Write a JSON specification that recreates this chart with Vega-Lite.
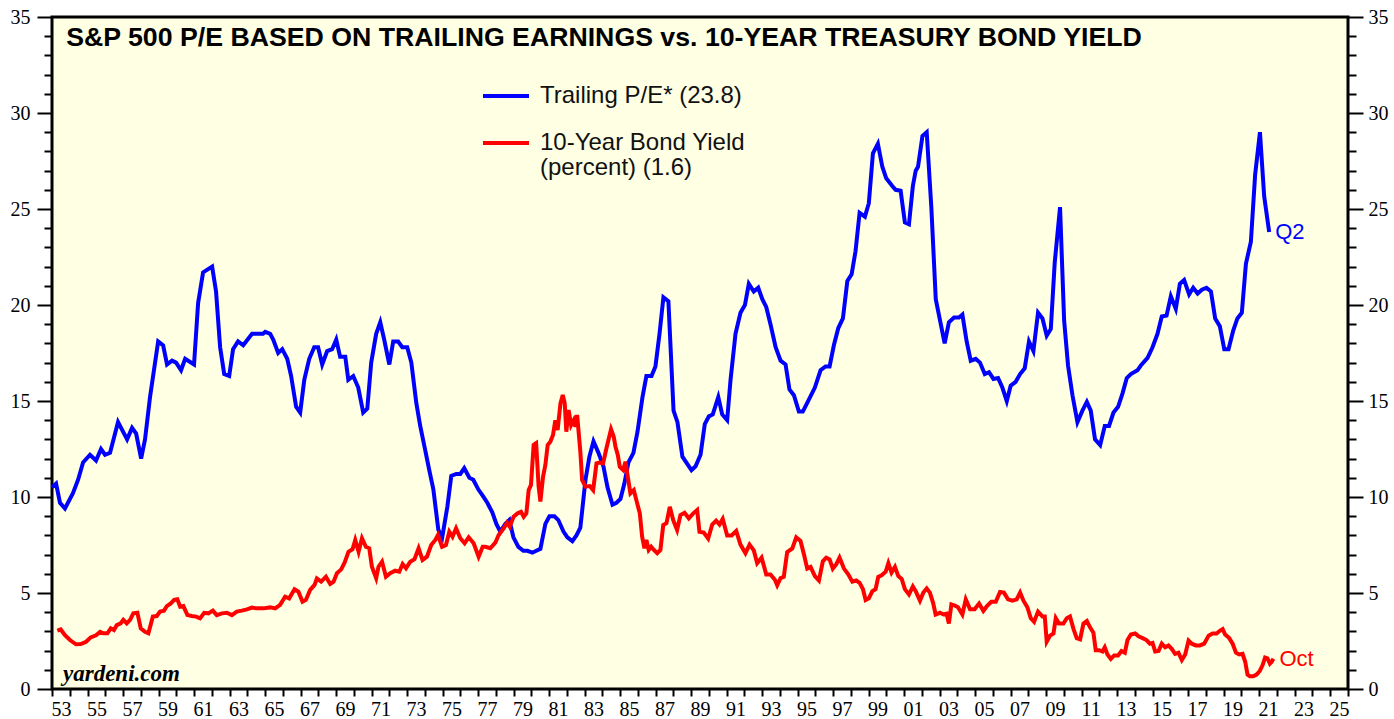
{
  "$schema": "https://vega.github.io/schema/vega-lite/v6.json",
  "width": 1296,
  "height": 672,
  "autosize": {"type": "none"},
  "padding": {"left": 52, "top": 17, "right": 46, "bottom": 30},
  "background": "white",
  "title": {"text": "Figure 7", "anchor": "start", "frame": "group", "font": "Liberation Sans", "fontSize": 22, "fontWeight": "bold", "color": "black", "baseline": "alphabetic", "offset": 4, "dx": 11},
  "config": {
    "view": {"fill": "#FFFFE3", "stroke": "black", "strokeWidth": 3},
    "axis": {"grid": false, "domain": false, "labelFont": "Liberation Serif", "labelFontSize": 20, "labelColor": "black", "tickColor": "black", "tickWidth": 2, "title": null}
  },
  "datasets": {
    "pe": [
      {"t":1953.0,"v":10.5},{"t":1953.23,"v":10.7},{"t":1953.45,"v":9.7},{"t":1953.73,"v":9.4},{"t":1954.18,"v":10.2},{"t":1954.47,"v":10.9},{"t":1954.75,"v":11.8},{"t":1955.14,"v":12.2},{"t":1955.48,"v":11.9},{"t":1955.76,"v":12.5},{"t":1955.99,"v":12.2},{"t":1956.27,"v":12.3},{"t":1956.72,"v":13.9},{"t":1957.23,"v":13.0},{"t":1957.51,"v":13.6},{"t":1957.74,"v":13.3},{"t":1958.02,"v":12.0},{"t":1958.24,"v":13.0},{"t":1958.52,"v":15.2},{"t":1958.98,"v":18.1},{"t":1959.26,"v":17.9},{"t":1959.48,"v":16.9},{"t":1959.76,"v":17.1},{"t":1959.99,"v":17.0},{"t":1960.27,"v":16.6},{"t":1960.5,"v":17.2},{"t":1961.0,"v":16.9},{"t":1961.23,"v":20.1},{"t":1961.51,"v":21.7},{"t":1962.02,"v":22.0},{"t":1962.24,"v":20.7},{"t":1962.47,"v":17.8},{"t":1962.7,"v":16.4},{"t":1962.98,"v":16.3},{"t":1963.2,"v":17.7},{"t":1963.48,"v":18.1},{"t":1963.77,"v":17.9},{"t":1964.27,"v":18.5},{"t":1964.89,"v":18.5},{"t":1965.01,"v":18.6},{"t":1965.29,"v":18.5},{"t":1965.46,"v":18.2},{"t":1965.74,"v":17.5},{"t":1965.97,"v":17.7},{"t":1966.25,"v":17.2},{"t":1966.47,"v":16.3},{"t":1966.75,"v":14.7},{"t":1966.98,"v":14.4},{"t":1967.21,"v":16.1},{"t":1967.49,"v":17.2},{"t":1967.77,"v":17.8},{"t":1967.99,"v":17.8},{"t":1968.22,"v":16.9},{"t":1968.5,"v":17.6},{"t":1968.78,"v":17.7},{"t":1969.01,"v":18.2},{"t":1969.23,"v":17.3},{"t":1969.52,"v":17.3},{"t":1969.69,"v":16.1},{"t":1969.97,"v":16.3},{"t":1970.25,"v":15.7},{"t":1970.53,"v":14.4},{"t":1970.76,"v":14.6},{"t":1970.98,"v":17.0},{"t":1971.26,"v":18.5},{"t":1971.49,"v":19.1},{"t":1971.71,"v":18.2},{"t":1972.0,"v":16.9},{"t":1972.22,"v":18.1},{"t":1972.5,"v":18.1},{"t":1972.73,"v":17.8},{"t":1973.01,"v":17.8},{"t":1973.24,"v":17.0},{"t":1973.52,"v":14.9},{"t":1973.74,"v":13.7},{"t":1974.03,"v":12.4},{"t":1974.25,"v":11.4},{"t":1974.48,"v":10.4},{"t":1974.76,"v":8.3},{"t":1974.98,"v":7.9},{"t":1975.27,"v":9.5},{"t":1975.49,"v":11.1},{"t":1975.77,"v":11.2},{"t":1976.0,"v":11.2},{"t":1976.22,"v":11.5},{"t":1976.51,"v":11.0},{"t":1976.73,"v":10.9},{"t":1977.01,"v":10.4},{"t":1977.24,"v":10.1},{"t":1977.52,"v":9.7},{"t":1977.8,"v":9.2},{"t":1978.03,"v":8.6},{"t":1978.25,"v":8.2},{"t":1978.54,"v":8.6},{"t":1978.76,"v":8.8},{"t":1978.99,"v":7.9},{"t":1979.27,"v":7.4},{"t":1979.55,"v":7.2},{"t":1979.78,"v":7.2},{"t":1980.06,"v":7.1},{"t":1980.28,"v":7.2},{"t":1980.51,"v":7.3},{"t":1980.79,"v":8.6},{"t":1981.02,"v":9.0},{"t":1981.3,"v":9.0},{"t":1981.52,"v":8.8},{"t":1981.81,"v":8.2},{"t":1982.03,"v":7.9},{"t":1982.31,"v":7.7},{"t":1982.54,"v":8.0},{"t":1982.76,"v":8.4},{"t":1983.05,"v":10.9},{"t":1983.27,"v":12.1},{"t":1983.5,"v":12.9},{"t":1983.78,"v":12.3},{"t":1984.06,"v":11.6},{"t":1984.29,"v":10.5},{"t":1984.57,"v":9.6},{"t":1984.79,"v":9.7},{"t":1985.02,"v":9.9},{"t":1985.24,"v":10.7},{"t":1985.47,"v":11.8},{"t":1985.75,"v":12.3},{"t":1985.98,"v":13.4},{"t":1986.26,"v":15.2},{"t":1986.48,"v":16.3},{"t":1986.77,"v":16.3},{"t":1986.99,"v":16.8},{"t":1987.22,"v":18.5},{"t":1987.44,"v":20.4},{"t":1987.72,"v":20.2},{"t":1988.01,"v":14.5},{"t":1988.23,"v":13.9},{"t":1988.51,"v":12.1},{"t":1988.8,"v":11.7},{"t":1989.02,"v":11.4},{"t":1989.25,"v":11.6},{"t":1989.53,"v":12.2},{"t":1989.77,"v":13.8},{"t":1990.0,"v":14.2},{"t":1990.22,"v":14.3},{"t":1990.53,"v":15.2},{"t":1990.75,"v":14.3},{"t":1991.03,"v":14.0},{"t":1991.22,"v":16.1},{"t":1991.5,"v":18.5},{"t":1991.78,"v":19.6},{"t":1992.03,"v":20.0},{"t":1992.25,"v":21.1},{"t":1992.53,"v":20.7},{"t":1992.78,"v":20.9},{"t":1993.01,"v":20.3},{"t":1993.23,"v":19.9},{"t":1993.47,"v":19.0},{"t":1993.76,"v":17.8},{"t":1994.04,"v":17.1},{"t":1994.32,"v":16.9},{"t":1994.54,"v":15.6},{"t":1994.79,"v":15.3},{"t":1995.07,"v":14.45},{"t":1995.29,"v":14.45},{"t":1995.54,"v":14.9},{"t":1995.97,"v":15.7},{"t":1996.29,"v":16.6},{"t":1996.57,"v":16.8},{"t":1996.8,"v":16.8},{"t":1997.04,"v":17.9},{"t":1997.29,"v":18.8},{"t":1997.55,"v":19.3},{"t":1997.8,"v":21.25},{"t":1998.04,"v":21.6},{"t":1998.26,"v":22.8},{"t":1998.49,"v":24.8},{"t":1998.79,"v":24.6},{"t":1999.01,"v":25.3},{"t":1999.24,"v":27.9},{"t":1999.52,"v":28.4},{"t":1999.77,"v":27.2},{"t":1999.99,"v":26.6},{"t":2000.33,"v":26.2},{"t":2000.52,"v":26.0},{"t":2000.8,"v":25.95},{"t":2001.04,"v":24.3},{"t":2001.27,"v":24.2},{"t":2001.49,"v":26.2},{"t":2001.65,"v":27.0},{"t":2001.78,"v":27.2},{"t":2002.03,"v":28.8},{"t":2002.27,"v":29.0},{"t":2002.53,"v":25.1},{"t":2002.78,"v":20.3},{"t":2003.02,"v":19.2},{"t":2003.28,"v":18.0},{"t":2003.52,"v":19.1},{"t":2003.81,"v":19.35},{"t":2004.09,"v":19.35},{"t":2004.28,"v":19.5},{"t":2004.52,"v":18.1},{"t":2004.75,"v":17.1},{"t":2005.03,"v":17.2},{"t":2005.27,"v":17.0},{"t":2005.54,"v":16.4},{"t":2005.78,"v":16.5},{"t":2006.03,"v":16.15},{"t":2006.29,"v":16.2},{"t":2006.53,"v":15.7},{"t":2006.78,"v":15.0},{"t":2007.0,"v":15.8},{"t":2007.28,"v":16.0},{"t":2007.53,"v":16.4},{"t":2007.79,"v":16.7},{"t":2008.03,"v":18.1},{"t":2008.28,"v":17.6},{"t":2008.54,"v":19.6},{"t":2008.79,"v":19.3},{"t":2009.03,"v":18.4},{"t":2009.26,"v":18.75},{"t":2009.48,"v":22.2},{"t":2009.78,"v":25.1},{"t":2010.01,"v":19.2},{"t":2010.23,"v":16.85},{"t":2010.48,"v":15.3},{"t":2010.76,"v":13.9},{"t":2011.04,"v":14.5},{"t":2011.29,"v":14.95},{"t":2011.51,"v":14.5},{"t":2011.75,"v":13.0},{"t":2012.04,"v":12.7},{"t":2012.3,"v":13.7},{"t":2012.54,"v":13.7},{"t":2012.79,"v":14.4},{"t":2013.05,"v":14.7},{"t":2013.3,"v":15.4},{"t":2013.54,"v":16.2},{"t":2013.77,"v":16.4},{"t":2014.14,"v":16.6},{"t":2014.33,"v":16.85},{"t":2014.71,"v":17.25},{"t":2014.99,"v":17.8},{"t":2015.27,"v":18.5},{"t":2015.51,"v":19.4},{"t":2015.78,"v":19.45},{"t":2016.02,"v":20.45},{"t":2016.3,"v":19.8},{"t":2016.53,"v":21.1},{"t":2016.77,"v":21.3},{"t":2017.05,"v":20.55},{"t":2017.28,"v":20.9},{"t":2017.53,"v":20.6},{"t":2017.77,"v":20.8},{"t":2018.03,"v":20.9},{"t":2018.28,"v":20.7},{"t":2018.52,"v":19.3},{"t":2018.78,"v":18.9},{"t":2019.03,"v":17.7},{"t":2019.27,"v":17.7},{"t":2019.53,"v":18.65},{"t":2019.77,"v":19.3},{"t":2020.02,"v":19.6},{"t":2020.25,"v":22.15},{"t":2020.53,"v":23.3},{"t":2020.77,"v":26.8},{"t":2021.04,"v":29.0},{"t":2021.28,"v":25.65},{"t":2021.56,"v":23.8}
    ],
    "yld": [
      {"t":1953.3,"v":3.04},{"t":1953.49,"v":3.1},{"t":1953.73,"v":2.8},{"t":1954.01,"v":2.55},{"t":1954.35,"v":2.33},{"t":1954.62,"v":2.34},{"t":1954.92,"v":2.46},{"t":1955.18,"v":2.69},{"t":1955.48,"v":2.8},{"t":1955.71,"v":2.98},{"t":1955.89,"v":2.9},{"t":1956.12,"v":2.9},{"t":1956.31,"v":3.16},{"t":1956.49,"v":3.07},{"t":1956.65,"v":3.33},{"t":1956.87,"v":3.42},{"t":1957.02,"v":3.6},{"t":1957.21,"v":3.42},{"t":1957.4,"v":3.6},{"t":1957.58,"v":3.94},{"t":1957.81,"v":3.97},{"t":1958.0,"v":3.16},{"t":1958.24,"v":2.98},{"t":1958.43,"v":2.9},{"t":1958.68,"v":3.77},{"t":1958.9,"v":3.8},{"t":1959.09,"v":4.03},{"t":1959.31,"v":4.08},{"t":1959.47,"v":4.32},{"t":1959.69,"v":4.46},{"t":1959.88,"v":4.64},{"t":1960.06,"v":4.67},{"t":1960.22,"v":4.29},{"t":1960.4,"v":4.32},{"t":1960.63,"v":3.85},{"t":1960.87,"v":3.8},{"t":1961.12,"v":3.77},{"t":1961.34,"v":3.68},{"t":1961.57,"v":3.97},{"t":1961.81,"v":3.94},{"t":1962.06,"v":4.08},{"t":1962.28,"v":3.85},{"t":1962.57,"v":3.94},{"t":1962.85,"v":3.97},{"t":1963.13,"v":3.85},{"t":1963.41,"v":4.03},{"t":1963.69,"v":4.08},{"t":1963.98,"v":4.15},{"t":1964.26,"v":4.24},{"t":1964.54,"v":4.2},{"t":1964.91,"v":4.2},{"t":1965.29,"v":4.25},{"t":1965.57,"v":4.2},{"t":1965.85,"v":4.38},{"t":1966.13,"v":4.81},{"t":1966.36,"v":4.72},{"t":1966.66,"v":5.19},{"t":1966.88,"v":5.07},{"t":1967.11,"v":4.55},{"t":1967.3,"v":4.64},{"t":1967.54,"v":5.16},{"t":1967.79,"v":5.42},{"t":1967.92,"v":5.76},{"t":1968.16,"v":5.59},{"t":1968.43,"v":5.85},{"t":1968.67,"v":5.47},{"t":1968.86,"v":5.59},{"t":1969.05,"v":6.03},{"t":1969.29,"v":6.23},{"t":1969.48,"v":6.58},{"t":1969.7,"v":7.15},{"t":1969.93,"v":7.28},{"t":1970.08,"v":7.76},{"t":1970.27,"v":7.15},{"t":1970.46,"v":7.85},{"t":1970.68,"v":7.41},{"t":1970.87,"v":7.33},{"t":1971.02,"v":6.37},{"t":1971.26,"v":5.77},{"t":1971.39,"v":6.37},{"t":1971.59,"v":6.63},{"t":1971.81,"v":5.85},{"t":1972.05,"v":6.03},{"t":1972.33,"v":6.16},{"t":1972.56,"v":6.11},{"t":1972.75,"v":6.51},{"t":1972.94,"v":6.29},{"t":1973.18,"v":6.63},{"t":1973.42,"v":6.76},{"t":1973.65,"v":7.33},{"t":1973.87,"v":6.72},{"t":1974.12,"v":6.89},{"t":1974.36,"v":7.5},{"t":1974.59,"v":7.76},{"t":1974.74,"v":8.02},{"t":1974.97,"v":7.41},{"t":1975.19,"v":7.5},{"t":1975.38,"v":8.19},{"t":1975.56,"v":7.93},{"t":1975.76,"v":8.37},{"t":1976.0,"v":7.85},{"t":1976.24,"v":7.59},{"t":1976.47,"v":7.9},{"t":1976.75,"v":7.59},{"t":1977.03,"v":6.89},{"t":1977.26,"v":7.41},{"t":1977.41,"v":7.41},{"t":1977.69,"v":7.33},{"t":1977.97,"v":7.62},{"t":1978.16,"v":8.02},{"t":1978.44,"v":8.37},{"t":1978.63,"v":8.66},{"t":1978.78,"v":8.45},{"t":1979.0,"v":8.97},{"t":1979.23,"v":9.15},{"t":1979.42,"v":9.23},{"t":1979.57,"v":8.97},{"t":1979.72,"v":9.15},{"t":1979.85,"v":10.36},{"t":1979.98,"v":10.63},{"t":1980.13,"v":12.71},{"t":1980.27,"v":12.8},{"t":1980.41,"v":10.54},{"t":1980.51,"v":9.76},{"t":1980.66,"v":11.06},{"t":1980.79,"v":11.67},{"t":1980.92,"v":12.71},{"t":1981.07,"v":12.88},{"t":1981.22,"v":13.23},{"t":1981.35,"v":14.0},{"t":1981.48,"v":13.49},{"t":1981.64,"v":14.88},{"t":1981.77,"v":15.31},{"t":1981.88,"v":14.88},{"t":1981.97,"v":13.4},{"t":1982.1,"v":14.53},{"t":1982.24,"v":13.75},{"t":1982.39,"v":14.01},{"t":1982.48,"v":13.66},{"t":1982.58,"v":14.27},{"t":1982.76,"v":12.36},{"t":1982.86,"v":10.89},{"t":1983.05,"v":10.54},{"t":1983.29,"v":10.57},{"t":1983.48,"v":10.36},{"t":1983.67,"v":11.75},{"t":1983.85,"v":11.79},{"t":1984.04,"v":11.75},{"t":1984.23,"v":12.54},{"t":1984.49,"v":13.53},{"t":1984.64,"v":13.14},{"t":1984.74,"v":12.62},{"t":1984.87,"v":12.19},{"t":1984.98,"v":11.58},{"t":1985.17,"v":11.41},{"t":1985.3,"v":11.84},{"t":1985.43,"v":11.06},{"t":1985.58,"v":10.19},{"t":1985.77,"v":10.36},{"t":1985.96,"v":9.67},{"t":1986.11,"v":9.15},{"t":1986.24,"v":7.93},{"t":1986.37,"v":7.33},{"t":1986.48,"v":7.76},{"t":1986.61,"v":7.24},{"t":1986.75,"v":7.41},{"t":1986.9,"v":7.24},{"t":1987.09,"v":7.07},{"t":1987.27,"v":7.24},{"t":1987.43,"v":8.54},{"t":1987.61,"v":8.63},{"t":1987.8,"v":9.49},{"t":1987.99,"v":8.8},{"t":1988.21,"v":8.28},{"t":1988.4,"v":9.06},{"t":1988.63,"v":9.18},{"t":1988.87,"v":8.89},{"t":1989.12,"v":9.15},{"t":1989.34,"v":9.32},{"t":1989.47,"v":8.19},{"t":1989.71,"v":8.15},{"t":1989.96,"v":7.84},{"t":1990.19,"v":8.57},{"t":1990.41,"v":8.77},{"t":1990.6,"v":8.57},{"t":1990.78,"v":8.86},{"t":1991.03,"v":8.0},{"t":1991.28,"v":8.0},{"t":1991.54,"v":8.23},{"t":1991.78,"v":7.52},{"t":1992.06,"v":7.07},{"t":1992.29,"v":7.52},{"t":1992.53,"v":7.22},{"t":1992.72,"v":6.55},{"t":1992.97,"v":6.84},{"t":1993.23,"v":5.97},{"t":1993.47,"v":5.97},{"t":1993.72,"v":5.69},{"t":1993.85,"v":5.4},{"t":1994.04,"v":5.78},{"t":1994.22,"v":5.84},{"t":1994.41,"v":7.13},{"t":1994.7,"v":7.32},{"t":1994.92,"v":7.9},{"t":1995.16,"v":7.71},{"t":1995.35,"v":7.03},{"t":1995.54,"v":6.27},{"t":1995.73,"v":6.36},{"t":1995.97,"v":5.88},{"t":1996.2,"v":5.65},{"t":1996.42,"v":6.65},{"t":1996.61,"v":6.84},{"t":1996.8,"v":6.75},{"t":1996.98,"v":6.27},{"t":1997.18,"v":6.5},{"t":1997.36,"v":6.84},{"t":1997.61,"v":6.27},{"t":1997.85,"v":5.97},{"t":1998.08,"v":5.59},{"t":1998.3,"v":5.65},{"t":1998.49,"v":5.53},{"t":1998.68,"v":5.2},{"t":1998.83,"v":4.63},{"t":1999.01,"v":4.72},{"t":1999.21,"v":5.1},{"t":1999.39,"v":5.2},{"t":1999.54,"v":5.84},{"t":1999.73,"v":5.92},{"t":1999.96,"v":6.11},{"t":2000.11,"v":6.55},{"t":2000.29,"v":6.07},{"t":2000.48,"v":6.36},{"t":2000.67,"v":5.88},{"t":2000.86,"v":5.73},{"t":2001.04,"v":5.2},{"t":2001.27,"v":4.92},{"t":2001.49,"v":5.34},{"t":2001.65,"v":5.1},{"t":2001.89,"v":4.6},{"t":2002.08,"v":5.02},{"t":2002.27,"v":5.24},{"t":2002.45,"v":5.02},{"t":2002.64,"v":4.45},{"t":2002.77,"v":3.88},{"t":2003.02,"v":3.97},{"t":2003.21,"v":3.88},{"t":2003.39,"v":3.92},{"t":2003.52,"v":3.41},{"t":2003.66,"v":4.41},{"t":2003.85,"v":4.35},{"t":2004.03,"v":4.26},{"t":2004.28,"v":3.88},{"t":2004.47,"v":4.67},{"t":2004.71,"v":4.16},{"t":2004.97,"v":4.16},{"t":2005.22,"v":4.45},{"t":2005.46,"v":4.07},{"t":2005.65,"v":4.3},{"t":2005.91,"v":4.54},{"t":2006.16,"v":4.54},{"t":2006.4,"v":5.05},{"t":2006.62,"v":5.02},{"t":2006.85,"v":4.67},{"t":2007.1,"v":4.6},{"t":2007.34,"v":4.67},{"t":2007.53,"v":5.02},{"t":2007.72,"v":4.6},{"t":2007.94,"v":4.26},{"t":2008.13,"v":3.69},{"t":2008.32,"v":3.5},{"t":2008.54,"v":4.03},{"t":2008.79,"v":3.78},{"t":2008.92,"v":3.78},{"t":2009.03,"v":2.46},{"t":2009.22,"v":2.78},{"t":2009.41,"v":2.89},{"t":2009.54,"v":3.69},{"t":2009.72,"v":3.41},{"t":2009.97,"v":3.41},{"t":2010.16,"v":3.69},{"t":2010.34,"v":3.78},{"t":2010.54,"v":3.12},{"t":2010.72,"v":2.65},{"t":2010.91,"v":2.59},{"t":2011.1,"v":3.41},{"t":2011.29,"v":3.54},{"t":2011.47,"v":3.21},{"t":2011.66,"v":2.93},{"t":2011.79,"v":2.02},{"t":2011.98,"v":2.02},{"t":2012.17,"v":1.95},{"t":2012.3,"v":2.17},{"t":2012.45,"v":1.8},{"t":2012.64,"v":1.57},{"t":2012.83,"v":1.75},{"t":2013.05,"v":1.75},{"t":2013.24,"v":1.98},{"t":2013.43,"v":1.89},{"t":2013.58,"v":2.55},{"t":2013.77,"v":2.84},{"t":2014.01,"v":2.89},{"t":2014.2,"v":2.74},{"t":2014.43,"v":2.65},{"t":2014.65,"v":2.55},{"t":2014.84,"v":2.36},{"t":2014.99,"v":2.4},{"t":2015.14,"v":1.95},{"t":2015.33,"v":1.98},{"t":2015.51,"v":2.36},{"t":2015.7,"v":2.17},{"t":2015.89,"v":2.27},{"t":2016.08,"v":2.08},{"t":2016.26,"v":1.83},{"t":2016.45,"v":1.89},{"t":2016.64,"v":1.51},{"t":2016.83,"v":1.8},{"t":2017.02,"v":2.52},{"t":2017.2,"v":2.36},{"t":2017.43,"v":2.27},{"t":2017.66,"v":2.27},{"t":2017.9,"v":2.36},{"t":2018.15,"v":2.78},{"t":2018.37,"v":2.89},{"t":2018.6,"v":2.89},{"t":2018.78,"v":3.03},{"t":2018.94,"v":3.12},{"t":2019.08,"v":2.84},{"t":2019.31,"v":2.65},{"t":2019.5,"v":2.36},{"t":2019.69,"v":1.89},{"t":2019.87,"v":1.8},{"t":2020.06,"v":1.83},{"t":2020.21,"v":1.42},{"t":2020.34,"v":0.75},{"t":2020.47,"v":0.66},{"t":2020.66,"v":0.66},{"t":2020.85,"v":0.75},{"t":2021.03,"v":0.94},{"t":2021.18,"v":1.22},{"t":2021.33,"v":1.64},{"t":2021.46,"v":1.6},{"t":2021.6,"v":1.32},{"t":2021.7,"v":1.42},{"t":2021.8,"v":1.58}
    ],
    "ends": [
      {"t":2021.56,"v":23.8,"lab":"Q2"},
      {"t":2021.8,"v":1.58,"lab":"Oct"}
    ]
  },
  "layer": [
    {
      "data": {"name": "pe"},
      "mark": {"type": "line", "strokeWidth": 4},
      "encoding": {
        "x": {"field": "t", "type": "quantitative", "scale": {"domain": [1953, 2026], "nice": false, "zero": false},
          "axis": {"orient": "bottom", "values": [1953,1954,1955,1956,1957,1958,1959,1960,1961,1962,1963,1964,1965,1966,1967,1968,1969,1970,1971,1972,1973,1974,1975,1976,1977,1978,1979,1980,1981,1982,1983,1984,1985,1986,1987,1988,1989,1990,1991,1992,1993,1994,1995,1996,1997,1998,1999,2000,2001,2002,2003,2004,2005,2006,2007,2008,2009,2010,2011,2012,2013,2014,2015,2016,2017,2018,2019,2020,2021,2022,2023,2024,2025,2026],
            "labels": false, "tickSize": 7}},
        "y": {"field": "v", "type": "quantitative", "scale": {"domain": [0, 35], "nice": false},
          "axis": {"orient": "left", "values": [0,1,2,3,4,5,6,7,8,9,10,11,12,13,14,15,16,17,18,19,20,21,22,23,24,25,26,27,28,29,30,31,32,33,34,35],
            "labelExpr": "datum.value % 5 == 0 ? datum.label : ''",
            "tickSize": {"condition": {"test": "datum.value % 5 == 0", "value": 15}, "value": 8},
            "labelPadding": 7, "labelOverlap": false, "labelFlush": false}},
        "color": {"datum": "Trailing P/E* (23.8)", "type": "nominal",
          "scale": {"domain": ["Trailing P/E* (23.8)", "10-Year Bond Yield (percent) (1.6)"], "range": ["#0000ff", "#ff0000"]},
          "legend": {"orient": "none", "legendX": 429, "legendY": 54, "title": null, "symbolType": "stroke", "symbolSize": 2116, "symbolStrokeWidth": 4,
            "labelFont": "Liberation Sans", "labelFontSize": 24, "labelColor": "#111111", "labelOffset": 9, "labelLimit": 600, "rowPadding": 10,
            "labelExpr": "datum.label == 'Trailing P/E* (23.8)' ? datum.label : ['10-Year Bond Yield', '(percent) (1.6)']",
            "encode": {"labels": {"update": {"lineHeight": {"value": 25}}}}}}
      }
    },
    {
      "data": {"name": "yld"},
      "mark": {"type": "line", "strokeWidth": 4},
      "encoding": {
        "x": {"field": "t", "type": "quantitative",
          "axis": {"orient": "bottom", "values": [1953.5,1955.5,1957.5,1959.5,1961.5,1963.5,1965.5,1967.5,1969.5,1971.5,1973.5,1975.5,1977.5,1979.5,1981.5,1983.5,1985.5,1987.5,1989.5,1991.5,1993.5,1995.5,1997.5,1999.5,2001.5,2003.5,2005.5,2007.5,2009.5,2011.5,2013.5,2015.5,2017.5,2019.5,2021.5,2023.5,2025.5],
            "labelExpr": "slice(toString(floor(datum.value)), 2)",
            "ticks": false, "labelPadding": 10, "labelOverlap": false, "labelFlush": false, "labelBound": false}},
        "y": {"field": "v", "type": "quantitative",
          "axis": {"orient": "right", "values": [0,1,2,3,4,5,6,7,8,9,10,11,12,13,14,15,16,17,18,19,20,21,22,23,24,25,26,27,28,29,30,31,32,33,34,35],
            "labelExpr": "datum.value % 5 == 0 ? datum.label : ''",
            "tickSize": {"condition": {"test": "datum.value % 5 == 0", "value": 15}, "value": 8},
            "labelPadding": 5, "labelOverlap": false, "labelFlush": false}},
        "color": {"datum": "10-Year Bond Yield (percent) (1.6)", "type": "nominal"}
      }
    },
    {
      "data": {"name": "ends"},
      "mark": {"type": "text", "font": "Liberation Sans", "fontSize": 22, "align": "left", "baseline": "middle", "dx": 6},
      "encoding": {
        "x": {"field": "t", "type": "quantitative", "axis": null},
        "y": {"field": "v", "type": "quantitative", "axis": null},
        "text": {"field": "lab"},
        "color": {"condition": {"test": "datum.lab == 'Q2'", "value": "#0000ff"}, "value": "#ff0000"}
      }
    },
    {
      "data": {"values": [{}]},
      "mark": {"type": "text", "font": "Liberation Sans", "fontSize": 26.7, "fontWeight": "bold", "align": "left", "baseline": "alphabetic", "color": "black"},
      "encoding": {
        "x": {"datum": 1953.8, "type": "quantitative", "axis": null},
        "y": {"datum": 33.5, "type": "quantitative", "axis": null},
        "text": {"value": "S&P 500 P/E BASED ON TRAILING EARNINGS vs. 10-YEAR TREASURY BOND YIELD"}
      }
    },
    {
      "data": {"values": [{}]},
      "mark": {"type": "text", "font": "Liberation Serif", "fontSize": 23, "fontWeight": "bold", "fontStyle": "italic", "align": "left", "baseline": "alphabetic", "color": "black"},
      "encoding": {
        "x": {"datum": 1953.62, "type": "quantitative", "axis": null},
        "y": {"datum": 0.42, "type": "quantitative", "axis": null},
        "text": {"value": "yardeni.com"}
      }
    }
  ],
  "resolve": {"axis": {"x": "independent", "y": "independent"}}
}
